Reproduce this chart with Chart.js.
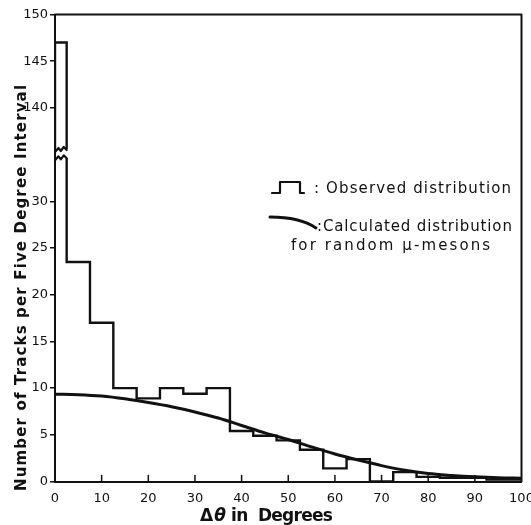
<!DOCTYPE html>
<html>
<head>
<meta charset="utf-8">
<script src="https://cdn.jsdelivr.net/npm/chart.js@4/dist/chart.umd.min.js"></script>
<style>
  body { margin: 0; background: #fff; }
</style>
</head>
<body>
<canvas id="myChart" width="531" height="525"></canvas>
<script>
const binEdges = [0, 2.5, 7.5, 12.5, 17.5, 22.5, 27.5, 32.5, 37.5, 42.5, 47.5, 52.5, 57.5, 62.5, 67.5, 72.5, 77.5, 82.5, 87.5, 92.5, 97.5, 100];
const observed = [147, 23.5, 17, 10, 8.9, 10, 9.4, 10, 5.4, 4.9, 4.4, 3.4, 1.4, 2.4, 0, 1.0, 0.5, 0.4, 0.4, 0.2, 0.2];
const curveAngles = [0, 5, 10, 15, 20, 25, 30, 35, 40, 45, 50, 55, 60, 65, 70, 75, 80, 85, 90, 95, 100];
const calculated = [9.35, 9.3, 9.15, 8.85, 8.45, 8.0, 7.45, 6.8, 6.0, 5.2, 4.5, 3.7, 2.95, 2.3, 1.7, 1.2, 0.85, 0.65, 0.5, 0.4, 0.35];
const xTicks = [0, 10, 20, 30, 40, 50, 60, 70, 80, 90, 100];
const yTicks = [0, 5, 10, 15, 20, 25, 30, 140, 145, 150];

// broken y axis: 35..135 is cut out
const breakLow = 35, breakHigh = 135;
const lowerCut = 34.6, upperCut = 135.6;
const toAxis = v => v > breakLow ? v - (breakHigh - breakLow) : v;
const fromAxis = v => v > breakLow ? v + (breakHigh - breakLow) : v;

const ink = '#111';
const font = 'DejaVu Sans';

// histogram below the break
const lowerHist = [{x: binEdges[1], y: lowerCut}];
for (let i = 1; i < observed.length; i++) lowerHist.push({x: binEdges[i], y: observed[i]});
lowerHist.push({x: binEdges[binEdges.length - 1], y: observed[observed.length - 1]});

// first bin, above the break
const upperHist = [
  {x: binEdges[0], y: toAxis(upperCut)},
  {x: binEdges[0], y: toAxis(observed[0])},
  {x: binEdges[1], y: toAxis(observed[0])},
  {x: binEdges[1], y: toAxis(upperCut)}
];

const curve = curveAngles.map((a, i) => ({x: a, y: calculated[i]}));

function fitText(ctx, text, x, y, width) {
  ctx.letterSpacing = '0px';
  const w = ctx.measureText(text).width;
  const sp = (width - w) / Math.max(text.length - 1, 1);
  ctx.letterSpacing = sp.toFixed(2) + 'px';
  ctx.fillText(text, x, y);
  ctx.letterSpacing = '0px';
}

const paperPlugin = {
  id: 'paper',
  afterDraw(chart) {
    const {ctx, chartArea: a, scales: {x, y}} = chart;
    ctx.save();
    ctx.strokeStyle = ink;
    ctx.fillStyle = ink;
    ctx.lineJoin = 'round';
    ctx.lineCap = 'round';

    // top and right frame
    ctx.lineWidth = 2;
    ctx.beginPath();
    ctx.moveTo(a.left, a.top);
    ctx.lineTo(a.right, a.top);
    ctx.lineTo(a.right, a.bottom);
    ctx.stroke();

    // inward x ticks
    ctx.lineWidth = 1.5;
    xTicks.slice(1, -1).forEach(t => {
      const px = x.getPixelForValue(t);
      ctx.beginPath();
      ctx.moveTo(px, a.bottom);
      ctx.lineTo(px, a.bottom - 6);
      ctx.stroke();
    });

    // break marks on the first bin
    const x0 = x.getPixelForValue(binEdges[0]);
    const x1 = x.getPixelForValue(binEdges[1]);
    const yl = y.getPixelForValue(lowerCut);
    const yu = y.getPixelForValue(toAxis(upperCut));
    const w = x1 - x0;
    ctx.lineWidth = 2.2;
    ctx.beginPath();
    ctx.moveTo(x0, yl + 2);
    ctx.lineTo(x0 + w * 0.3, yl - 2);
    ctx.lineTo(x0 + w * 0.5, yl + 1);
    ctx.lineTo(x0 + w * 0.75, yl - 3);
    ctx.lineTo(x1, yl);
    ctx.stroke();
    ctx.beginPath();
    ctx.moveTo(x0, yu + 3);
    ctx.lineTo(x0 + w * 0.3, yu - 1);
    ctx.lineTo(x0 + w * 0.5, yu + 2);
    ctx.lineTo(x0 + w * 0.75, yu - 2);
    ctx.lineTo(x1, yu + 1);
    ctx.stroke();

    // legend
    ctx.lineWidth = 2.2;
    ctx.beginPath();
    ctx.moveTo(272, 193);
    ctx.lineTo(280, 193);
    ctx.lineTo(280, 182);
    ctx.lineTo(300, 182);
    ctx.lineTo(300, 193);
    ctx.lineTo(304, 193);
    ctx.stroke();
    ctx.lineWidth = 3;
    ctx.beginPath();
    ctx.moveTo(270, 217);
    ctx.quadraticCurveTo(300, 217, 316, 228);
    ctx.stroke();

    ctx.font = '15px "' + font + '"';
    ctx.textAlign = 'left';
    ctx.textBaseline = 'alphabetic';
    fitText(ctx, ': Observed distribution', 314, 193, 197);
    fitText(ctx, ':Calculated distribution', 317, 231, 195);
    fitText(ctx, 'for random \u03bc-mesons', 291, 250, 199);

    // axis titles
    ctx.save();
    ctx.translate(22, 288);
    ctx.rotate(-Math.PI / 2);
    ctx.textAlign = 'left';
    ctx.textBaseline = 'middle';
    ctx.font = 'bold 15px "' + font + '"';
    fitText(ctx, 'Number of Tracks per Five Degree Interval', -203, 0, 406);
    ctx.restore();

    ctx.textBaseline = 'alphabetic';
    ctx.font = 'bold 17px "' + font + '"';
    let cx = 200;
    const by = 521;
    ctx.fillText('\u0394', cx, by);
    cx += ctx.measureText('\u0394').width + 1;
    ctx.font = 'italic bold 17px "' + font + '"';
    ctx.fillText('\u03b8', cx, by);
    cx += ctx.measureText('\u03b8').width;
    ctx.font = 'bold 17px "' + font + '"';
    fitText(ctx, ' in  Degrees', cx, by, 333 - cx);

    ctx.restore();
  }
};

new Chart(document.getElementById('myChart'), {
  type: 'line',
  data: {
    datasets: [{
      data: lowerHist,
      stepped: true,
      borderColor: ink,
      borderWidth: 2.4,
      pointRadius: 0,
      fill: false
    }, {
      data: upperHist,
      stepped: true,
      borderColor: ink,
      borderWidth: 2.4,
      pointRadius: 0,
      fill: false
    }, {
      data: curve,
      borderColor: ink,
      borderWidth: 3,
      pointRadius: 0,
      tension: 0.4,
      cubicInterpolationMode: 'monotone',
      fill: false
    }]
  },
  options: {
    responsive: false,
    animation: false,
    layout: { padding: { top: 14.5, right: 9.5, left: 0, bottom: 0 } },
    plugins: {
      legend: { display: false },
      tooltip: { enabled: false }
    },
    scales: {
      x: {
        type: 'linear',
        min: 0,
        max: 100,
        afterFit: s => { s.height = 43.5; s.paddingLeft = 0; s.paddingRight = 0; },
        afterBuildTicks: s => { s.ticks = xTicks.map(v => ({value: v})); },
        grid: { drawOnChartArea: false, drawTicks: false },
        border: { color: ink, width: 2 },
        ticks: {
          padding: 9,
          color: ink,
          font: { family: font, size: 13 },
          maxRotation: 0,
          callback: v => v
        }
      },
      y: {
        min: 0,
        max: 50,
        afterFit: s => { s.width = 55; s.paddingTop = 0; s.paddingBottom = 0; },
        afterBuildTicks: s => { s.ticks = yTicks.map(v => ({value: toAxis(v)})); },
        grid: { drawOnChartArea: false, tickLength: 5, color: ink, lineWidth: 1.5 },
        border: { color: ink, width: 2 },
        ticks: {
          padding: 2,
          color: ink,
          font: { family: font, size: 13 },
          callback: v => fromAxis(v)
        }
      }
    }
  },
  plugins: [paperPlugin]
});
</script>
</body>
</html>
